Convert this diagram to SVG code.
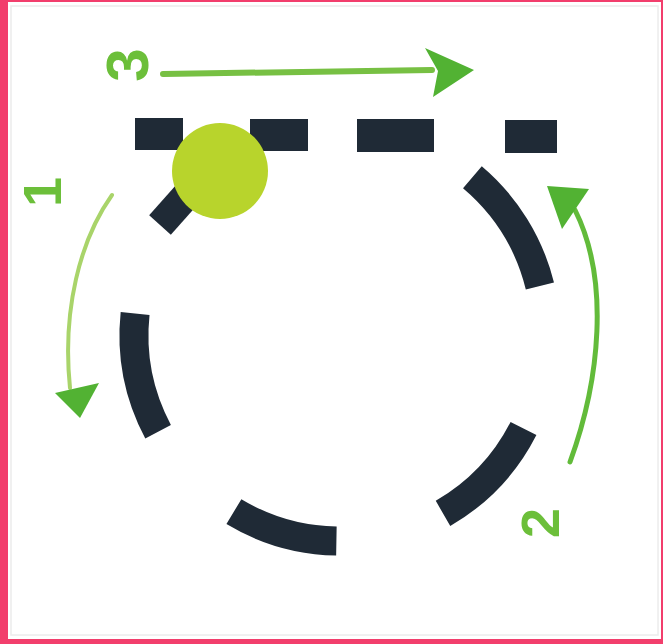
<svg xmlns="http://www.w3.org/2000/svg" width="663" height="644" viewBox="0 0 663 644">
  <style>
    .dash { fill: none; stroke: #1f2a36; stroke-width: 29; stroke-linecap: butt; }
    .bar { fill: #1f2a36; }
    .lbl { font-family: "Liberation Sans", Arial, sans-serif; font-weight: bold; fill: #6cbf3a; text-anchor: middle; }
    .arrowline { fill: none; stroke-linecap: round; }
    .head { fill: #52b233; }
  </style>
  <!-- frame -->
  <rect x="0" y="0" width="663" height="644" fill="#f23e6c"/>
  <rect x="8" y="2" width="653" height="637" fill="#ffffff"/>
  <rect x="11" y="6" width="647" height="629" fill="none" stroke="#ececec" stroke-width="1.5"/>

  <g id="circle">
    <path class="dash" d="M158.1,431.7 A206,206 0 0 1 135.1,313.5"/>
    <path class="dash" d="M336.4,541 A206,206 0 0 1 233.9,511.6"/>
    <path class="dash" d="M523.5,428.5 A206,206 0 0 1 443,513.4"/>
    <path class="dash" d="M472.4,177.2 A208,208 0 0 1 539.9,286"/>
    <line class="dash" x1="160" y1="225" x2="192" y2="189"/>
  </g>

  <g id="tangent-line">
    <rect class="bar" x="135" y="118" width="48" height="32"/>
    <rect class="bar" x="250" y="119" width="58" height="32"/>
    <rect class="bar" x="357" y="119" width="77" height="33"/>
    <rect class="bar" x="505" y="120" width="52" height="33"/>
  </g>

  <g id="dot">
    <circle cx="220" cy="171" r="48" fill="#b8d42c"/>
  </g>

  <g id="connectors">
    <path class="arrowline" d="M163,74 L432,70" stroke="#77c043" stroke-width="6"/>
    <path class="head" d="M425,48 L474,70 L433,97 L438,71 Z"/>
    <path class="arrowline" d="M112,195 C80,240 62,310 70,388" stroke="#a9d46a" stroke-width="4"/>
    <path class="head" d="M55,393 L99,383 L80,418 Z"/>
    <path class="arrowline" d="M570,462 C600,380 610,280 575,210" stroke="#62bb3a" stroke-width="5"/>
    <path class="head" d="M547,186 L589,189 L562,229 Z"/>
  </g>

  <g id="label-3">
    <text class="lbl" font-size="60" transform="translate(127,65) rotate(-90)" y="21">3</text>
  </g>
  <g id="label-1">
    <text class="lbl" font-size="54" transform="translate(42,192) rotate(-90)" y="19">1</text>
  </g>
  <g id="label-2">
    <text class="lbl" font-size="54" fill="#80c23e" transform="translate(540,523) rotate(-90)" y="19">2</text>
  </g>
</svg>
